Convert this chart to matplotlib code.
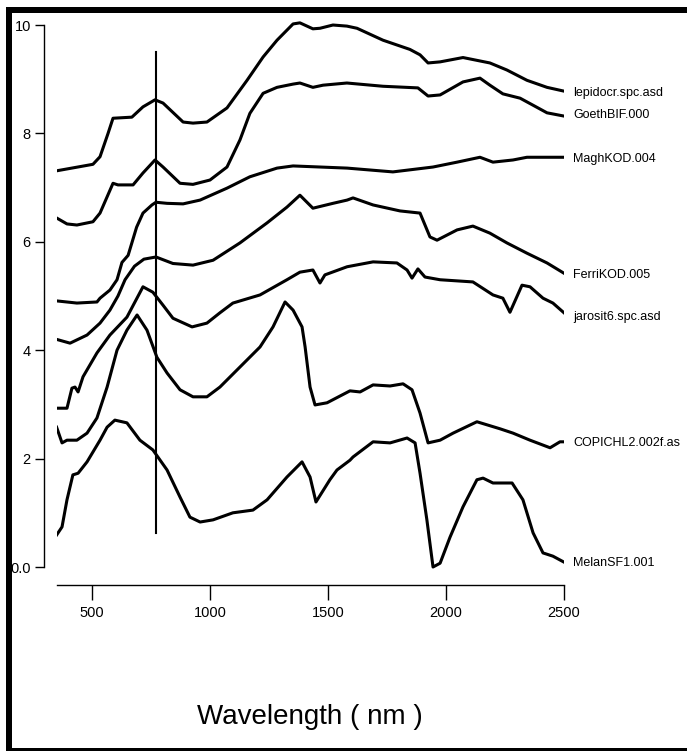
import matplotlib
matplotlib.use("Agg")
import matplotlib.pyplot as plt
from matplotlib.patches import Rectangle

plt.rcParams['font.family'] = ['Liberation Sans', 'DejaVu Sans']

# spectra (wavelength nm, offset reflectance)
lepid_nm = [350, 504, 534, 568, 589, 669, 716, 767, 801, 886, 928, 987, 1072, 1157, 1225, 1284,
            1352, 1381, 1436, 1466, 1521, 1580, 1623, 1733, 1847, 1890, 1924, 1975, 2072, 2186,
            2258, 2343, 2428, 2500]
lepid_y = [7.31, 7.43, 7.57, 8.00, 8.28, 8.30, 8.49, 8.62, 8.56, 8.21, 8.19, 8.21, 8.47, 8.98, 9.41,
           9.72, 10.02, 10.04, 9.93, 9.94, 10.00, 9.98, 9.94, 9.72, 9.55, 9.45, 9.30, 9.32, 9.40,
           9.30, 9.17, 8.98, 8.85, 8.78]

goeth_nm = [350, 394, 436, 504, 534, 564, 589, 610, 674, 716, 767, 801, 873, 928, 1000, 1072, 1127,
            1169, 1225, 1284, 1352, 1381, 1436, 1479, 1580, 1733, 1881, 1924, 1975, 2072, 2144,
            2186, 2241, 2314, 2369, 2428, 2500]
goeth_y = [6.44, 6.33, 6.31, 6.37, 6.53, 6.83, 7.08, 7.05, 7.05, 7.27, 7.51, 7.38, 7.08, 7.06, 7.14,
           7.38, 7.88, 8.37, 8.74, 8.85, 8.91, 8.93, 8.85, 8.89, 8.93, 8.87, 8.84, 8.69, 8.71, 8.95,
           9.02, 8.89, 8.73, 8.65, 8.52, 8.38, 8.32]

magh_nm = [350, 436, 521, 534, 576, 606, 627, 653, 689, 716, 754, 771, 818, 886, 958, 1072, 1169,
           1284, 1352, 1581, 1775, 1945, 2047, 2144, 2199, 2284, 2343, 2500]
magh_y = [4.91, 4.87, 4.89, 4.96, 5.11, 5.30, 5.62, 5.75, 6.27, 6.53, 6.68, 6.73, 6.71, 6.70, 6.77,
          6.99, 7.20, 7.36, 7.40, 7.36, 7.29, 7.38, 7.47, 7.56, 7.47, 7.51, 7.56, 7.56]

ferri_nm = [350, 407, 479, 534, 576, 610, 640, 680, 720, 771, 843, 928, 1013, 1127, 1242, 1326,
            1381, 1436, 1521, 1581, 1606, 1691, 1805, 1890, 1932, 1962, 2047, 2114, 2186, 2258,
            2343, 2428, 2500]
ferri_y = [4.20, 4.13, 4.28, 4.50, 4.74, 5.00, 5.30, 5.55, 5.68, 5.72, 5.60, 5.57, 5.66, 5.98, 6.35,
           6.64, 6.86, 6.62, 6.71, 6.77, 6.81, 6.68, 6.57, 6.53, 6.09, 6.03, 6.22, 6.29, 6.16, 5.98,
           5.79, 5.61, 5.42]

jaro_nm = [350, 394, 415, 428, 441, 462, 521, 576, 648, 716, 758, 801, 843, 924, 987, 1042, 1097,
           1212, 1326, 1381, 1436, 1466, 1487, 1581, 1691, 1792, 1835, 1856, 1881, 1911, 1975,
           2114, 2199, 2241, 2271, 2322, 2356, 2411, 2453, 2500]
jaro_y = [2.93, 2.93, 3.30, 3.32, 3.23, 3.51, 3.95, 4.28, 4.61, 5.17, 5.07, 4.83, 4.59, 4.43, 4.50,
          4.69, 4.87, 5.02, 5.30, 5.44, 5.48, 5.24, 5.39, 5.54, 5.63, 5.61, 5.48, 5.33, 5.50, 5.35,
          5.30, 5.26, 5.02, 4.96, 4.70, 5.20, 5.17, 4.96, 4.87, 4.69]

copi_nm = [350, 373, 394, 436, 479, 521, 564, 606, 648, 691, 733, 775, 818, 873, 928, 987, 1042,
           1127, 1212, 1267, 1318, 1352, 1390, 1403, 1424, 1445, 1496, 1593, 1636, 1691, 1763,
           1818, 1856, 1890, 1924, 1975, 2030, 2131, 2229, 2284, 2356, 2441, 2483, 2500]
copi_y = [2.58, 2.29, 2.34, 2.34, 2.47, 2.75, 3.32, 4.00, 4.37, 4.65, 4.37, 3.87, 3.58, 3.27, 3.14,
          3.14, 3.32, 3.69, 4.06, 4.43, 4.89, 4.74, 4.43, 4.06, 3.32, 2.99, 3.03, 3.25, 3.23, 3.36,
          3.34, 3.38, 3.27, 2.84, 2.29, 2.34, 2.47, 2.68, 2.55, 2.47, 2.34, 2.20, 2.31, 2.31]

melan_nm = [350, 373, 394, 419, 441, 479, 534, 564, 597, 648, 703, 758, 818, 873, 915, 958, 1013,
            1097, 1182, 1242, 1326, 1390, 1424, 1449, 1508, 1538, 1593, 1606, 1691, 1763, 1835,
            1869, 1890, 1919, 1945, 1975, 2017, 2072, 2131, 2157, 2199, 2280, 2326, 2369, 2411,
            2453, 2500]
melan_y = [0.59, 0.74, 1.24, 1.70, 1.73, 1.94, 2.34, 2.58, 2.71, 2.66, 2.34, 2.16, 1.79, 1.29, 0.92,
           0.83, 0.87, 1.00, 1.05, 1.24, 1.66, 1.94, 1.66, 1.20, 1.61, 1.79, 1.97, 2.03, 2.31, 2.29,
           2.38, 2.29, 1.73, 0.87, 0.00, 0.07, 0.55, 1.11, 1.61, 1.64, 1.55, 1.55, 1.24, 0.63, 0.26,
           0.20, 0.09]

# the COPICHL name is cut at the right edge in the original
names = ["lepidocr.spc.asd", "GoethBIF.000", "MaghKOD.004", "FerriKOD.005",
         "jarosit6.spc.asd", "COPICHL2.002f.as", "MelanSF1.001"]
label_y = [8.75, 8.34, 7.53, 5.39, 4.61, 2.29, 0.07]

x_ticks = [500, 1000, 1500, 2000, 2500]
y_ticks = [0, 2, 4, 6, 8, 10]
y_tick_labels = ["0.0", "2", "4", "6", "8", "10"]

marker_nm = 770
marker_lo, marker_hi = 0.63, 9.5

W, H = 687, 751


def fx(px):
    return px / W


def fy(py):
    return 1 - py / H


fig = plt.figure(figsize=(W / 100, H / 100), dpi=100)
ax = fig.add_axes([fx(56.6), fy(585), fx(564) - fx(56.6), fy(19.6) - fy(585)])

spectra = [(lepid_nm, lepid_y), (goeth_nm, goeth_y), (magh_nm, magh_y), (ferri_nm, ferri_y),
           (jaro_nm, jaro_y), (copi_nm, copi_y), (melan_nm, melan_y)]
for (xs, ys), name, ly in zip(spectra, names, label_y):
    ax.plot(xs, ys, color="black", linewidth=2.2, solid_joinstyle="round")
    ax.text(2538, ly, name, fontsize=9, va="center", ha="left", clip_on=False)

ax.plot([marker_nm, marker_nm], [marker_lo, marker_hi], color="black", linewidth=1.5)

ax.set_xlim(350, 2500)
ax.set_ylim(-0.332, 10.1)

for s in ["top", "right"]:
    ax.spines[s].set_visible(False)
ax.spines["left"].set_position(("outward", 9.1))
ax.spines["left"].set_bounds(0, 10)
ax.spines["bottom"].set_bounds(350, 2500)
ax.spines["left"].set_linewidth(1.0)
ax.spines["bottom"].set_linewidth(1.0)

ax.set_xticks(x_ticks)
ax.set_yticks(y_ticks)
ax.set_yticklabels(y_tick_labels)
ax.tick_params(axis="x", direction="out", length=10.8, width=1.0, pad=4.5, labelsize=10.5)
ax.tick_params(axis="y", direction="out", length=6.5, width=1.0, pad=3, labelsize=10.5)

ax.set_xlabel("Wavelength ( nm )", fontsize=20, va="center")
ax.xaxis.set_label_coords(0.5, -0.2335)

# black frame around the figure (top, left, bottom)
fig.add_artist(Rectangle((fx(6), fy(13)), 1 - fx(6), fy(7) - fy(13), transform=fig.transFigure,
                         facecolor="black", edgecolor="none"))
fig.add_artist(Rectangle((fx(6), 0), fx(12) - fx(6), fy(7), transform=fig.transFigure,
                         facecolor="black", edgecolor="none"))
fig.add_artist(Rectangle((fx(6), 0), 1 - fx(6), fy(748), transform=fig.transFigure,
                         facecolor="black", edgecolor="none"))

fig.savefig("out.png", dpi=100)
